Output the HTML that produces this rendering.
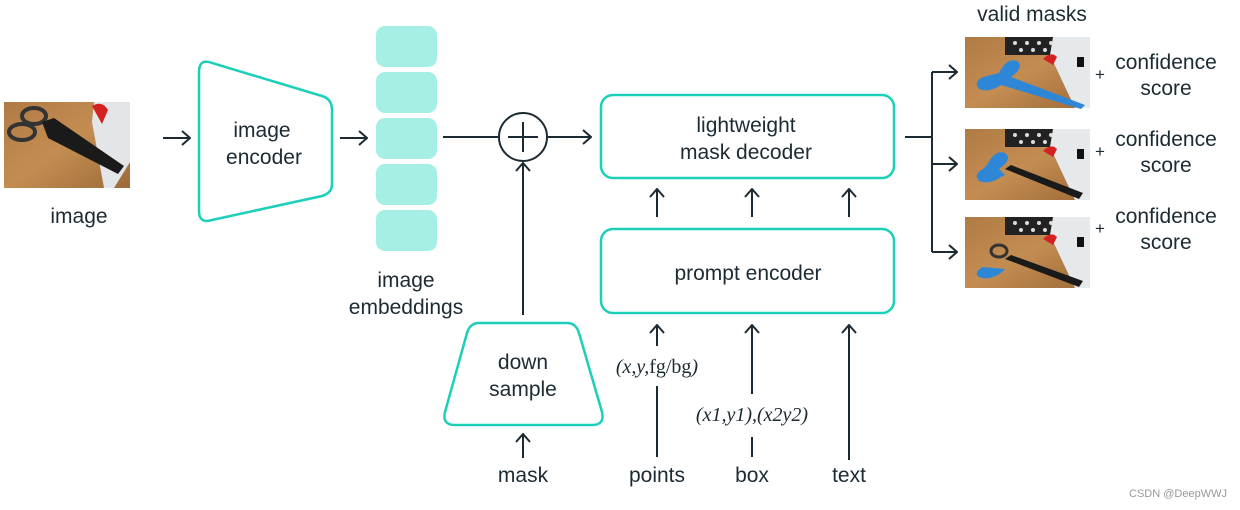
<!DOCTYPE html>
<html><head><meta charset="utf-8"><style>
html,body{margin:0;padding:0;background:#fff;}
svg{display:block;}
text{font-family:"Liberation Sans","DejaVu Sans",sans-serif;fill:#1c2b33;font-size:21px;}
.it{font-family:"Liberation Serif",serif;font-style:italic;font-size:20px;}
</style></head><body>
<svg width="1240" height="510" viewBox="0 0 1240 510" xmlns="http://www.w3.org/2000/svg">
<defs>
<marker id="ah" viewBox="0 0 10 16" refX="9" refY="8" markerWidth="10" markerHeight="16" markerUnits="userSpaceOnUse" orient="auto">
<path d="M1,1 L9,8 L1,15" fill="none" stroke="#1c2b33" stroke-width="2"/>
</marker>
<linearGradient id="wood" x1="0" y1="0" x2="1" y2="1">
<stop offset="0" stop-color="#b07a45"/><stop offset="0.5" stop-color="#c38d52"/><stop offset="1" stop-color="#9e6a38"/>
</linearGradient>
<g id="photo">
<rect x="0" y="0" width="125" height="71" fill="url(#wood)"/>
<rect x="40" y="0" width="60" height="18" fill="#222"/>
<circle cx="50" cy="6" r="2" fill="#ddd"/><circle cx="62" cy="6" r="2" fill="#ddd"/><circle cx="74" cy="6" r="2" fill="#ddd"/><circle cx="86" cy="6" r="2" fill="#ddd"/><circle cx="56" cy="13" r="2" fill="#ddd"/><circle cx="68" cy="13" r="2" fill="#ddd"/><circle cx="80" cy="13" r="2" fill="#ddd"/>
<polygon points="88,0 125,0 125,71 110,71 85,18" fill="#e6e9ec"/>
<path d="M78,22 q8,-8 14,-2 l-4,8 z" fill="#d42222"/>
<rect x="112" y="20" width="7" height="10" fill="#111"/>
</g>
</defs>

<g transform="translate(4,102)">
<rect x="0" y="0" width="126" height="86" fill="url(#wood)"/>
<polygon points="90,0 126,0 126,60 110,86 100,86 88,20" fill="#e3e5e8"/>
<path d="M88,4 q10,-6 16,4 l-6,14 z" fill="#d42222"/>
<ellipse cx="30" cy="14" rx="12" ry="8" fill="none" stroke="#333" stroke-width="4"/>
<ellipse cx="18" cy="30" rx="13" ry="8" fill="none" stroke="#333" stroke-width="4"/>
<polygon points="38,20 50,16 120,64 114,72 44,36" fill="#1a1a1a"/>
</g>
<text x="79" y="223" text-anchor="middle">image</text>

<g stroke="#1c2b33" stroke-width="2" fill="none">
<line x1="163" y1="138" x2="190" y2="138" marker-end="url(#ah)"/>
<line x1="340" y1="138" x2="367" y2="138" marker-end="url(#ah)"/>
<line x1="443" y1="137" x2="499" y2="137"/>
<circle cx="523" cy="137" r="24"/>
<line x1="508" y1="137" x2="538" y2="137"/><line x1="523" y1="122" x2="523" y2="152"/>
<line x1="547" y1="137" x2="591" y2="137" marker-end="url(#ah)"/>
<line x1="523" y1="315" x2="523" y2="163" marker-end="url(#ah)"/>
<line x1="523" y1="458" x2="523" y2="434" marker-end="url(#ah)"/>
<line x1="657" y1="217" x2="657" y2="189" marker-end="url(#ah)"/>
<line x1="752" y1="217" x2="752" y2="189" marker-end="url(#ah)"/>
<line x1="849" y1="217" x2="849" y2="189" marker-end="url(#ah)"/>
<line x1="657" y1="346" x2="657" y2="325" marker-end="url(#ah)"/>
<line x1="657" y1="386" x2="657" y2="457"/>
<line x1="752" y1="394" x2="752" y2="325" marker-end="url(#ah)"/>
<line x1="752" y1="437" x2="752" y2="457"/>
<line x1="849" y1="460" x2="849" y2="325" marker-end="url(#ah)"/>
<line x1="905" y1="137" x2="932" y2="137"/>
<line x1="932" y1="72" x2="932" y2="252"/>
<line x1="932" y1="72" x2="957" y2="72" marker-end="url(#ah)"/>
<line x1="932" y1="164" x2="957" y2="164" marker-end="url(#ah)"/>
<line x1="932" y1="252" x2="957" y2="252" marker-end="url(#ah)"/>
</g>

<path d="M199,72 Q199,58 212,63 L322,96 Q332,99 332,110 L332,184 Q332,193 322,196 L212,220 Q199,224 199,211 Z" fill="none" stroke="#1ccfb8" stroke-width="2.5"/>
<text x="262" y="137" text-anchor="middle">image</text>
<text x="264" y="164" text-anchor="middle">encoder</text>

<g fill="#a6efe4">
<rect x="376" y="26" width="61" height="41" rx="9"/>
<rect x="376" y="72" width="61" height="41" rx="9"/>
<rect x="376" y="118" width="61" height="41" rx="9"/>
<rect x="376" y="164" width="61" height="41" rx="9"/>
<rect x="376" y="210" width="61" height="41" rx="9"/>
</g>
<text x="406" y="287" text-anchor="middle">image</text>
<text x="406" y="314" text-anchor="middle">embeddings</text>

<path d="M479,323 L567,323 Q576,323 579,333 L602,412 Q605,425 592,425 L455,425 Q442,425 445,412 L467,333 Q470,323 479,323 Z" fill="none" stroke="#1ccfb8" stroke-width="2.5"/>
<text x="523" y="369" text-anchor="middle">down</text>
<text x="523" y="396" text-anchor="middle">sample</text>
<text x="523" y="482" text-anchor="middle">mask</text>

<rect x="601" y="95" width="293" height="83" rx="12" fill="none" stroke="#1ccfb8" stroke-width="2.5"/>
<text x="746" y="132" text-anchor="middle">lightweight</text>
<text x="746" y="159" text-anchor="middle">mask decoder</text>
<rect x="601" y="229" width="293" height="84" rx="12" fill="none" stroke="#1ccfb8" stroke-width="2.5"/>
<text x="748" y="280" text-anchor="middle">prompt encoder</text>

<text class="it" x="657" y="373" text-anchor="middle">(x,y,<tspan font-style="normal">fg/bg</tspan>)</text>
<text class="it" x="752" y="421" text-anchor="middle">(x1,y1),(x2y2)</text>
<text x="657" y="482" text-anchor="middle">points</text>
<text x="752" y="482" text-anchor="middle">box</text>
<text x="849" y="482" text-anchor="middle">text</text>

<text x="1032" y="21" text-anchor="middle">valid masks</text>
<g transform="translate(965,37)"><use href="#photo"/>
<path d="M18,40 q-10,5 -4,12 q10,4 22,-4 l80,24 l4,-4 l-74,-28 q14,-10 6,-16 q-10,-4 -18,12 z" fill="#2e86d6"/></g>
<g transform="translate(965,129)"><use href="#photo"/>
<path d="M18,40 q-10,5 -4,12 q10,4 22,-4 l4,-2 l-6,-6 q14,-10 6,-16 q-10,-4 -18,12 z" fill="#2e86d6"/>
<polygon points="40,40 46,36 118,64 114,70" fill="#1a1a1a"/></g>
<g transform="translate(965,217)"><use href="#photo"/>
<path d="M18,50 q-10,5 -4,10 q10,4 22,-4 l4,-4 z" fill="#2e86d6"/>
<ellipse cx="34" cy="34" rx="8" ry="6" fill="none" stroke="#333" stroke-width="3"/>
<polygon points="40,42 46,38 118,64 114,70" fill="#1a1a1a"/></g>

<text x="1100" y="80" text-anchor="middle" style="font-size:17px">+</text>
<text x="1100" y="157" text-anchor="middle" style="font-size:17px">+</text>
<text x="1100" y="234" text-anchor="middle" style="font-size:17px">+</text>
<text x="1166" y="69" text-anchor="middle">confidence</text>
<text x="1166" y="95" text-anchor="middle">score</text>
<text x="1166" y="146" text-anchor="middle">confidence</text>
<text x="1166" y="172" text-anchor="middle">score</text>
<text x="1166" y="223" text-anchor="middle">confidence</text>
<text x="1166" y="249" text-anchor="middle">score</text>

<text x="1178" y="497" text-anchor="middle" style="font-size:11px;fill:#999">CSDN @DeepWWJ</text>
</svg>
</body></html>
